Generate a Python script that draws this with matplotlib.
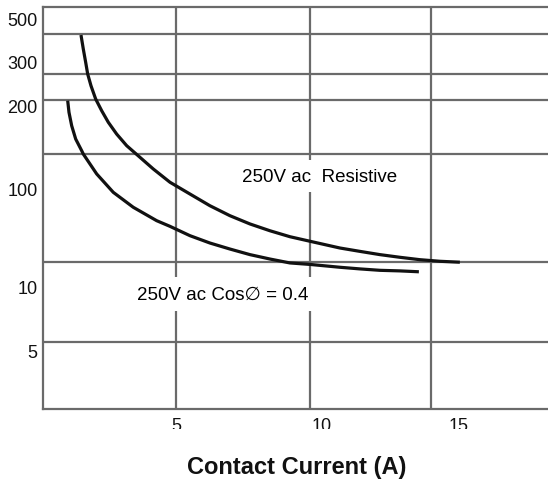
import numpy as np
import matplotlib
matplotlib.use("Agg")
import matplotlib.pyplot as plt
from matplotlib.transforms import Bbox, TransformedBbox

plt.rcParams['font.family'] = ['Liberation Sans', 'DejaVu Sans']

# ---- data ----
res_current = [1.418, 1.504, 1.593, 1.668, 1.791, 1.966, 2.190, 2.437, 2.750, 3.123,
               3.619, 4.116, 4.739, 5.485, 6.231, 6.978, 7.724, 8.47, 9.216,
               9.963, 11.082, 11.828, 12.575, 13.321, 14.067, 14.813, 15.56]
res_life = [413.4, 350.1, 299.1, 268.5, 241.1, 213.3, 192.3, 174.6, 158.2, 143.6,
            130.3, 118.2, 105.8, 88.9, 67.5, 53.4, 44.0, 37.5, 32.6,
            29.3, 25.0, 23.1, 21.4, 20.1, 19.0, 18.3, 17.9]

cos_current = [0.922, 0.970, 1.071, 1.220, 1.444, 1.504, 2.004, 2.623, 3.369, 4.243,
               4.739, 5.485, 6.231, 6.978, 7.724, 8.47, 9.216, 9.963, 11.082, 11.828,
               12.575, 13.321, 14.03]
cos_life = [210.0, 189.7, 169.6, 151.8, 137.7, 133.9, 113.4, 92.5, 65.1, 47.5,
            41.6, 33.4, 28.1, 24.4, 21.4, 19.3, 17.6, 17.0, 15.9, 15.3,
            14.8, 14.6, 14.3]

y_tick_values = [500, 300, 200, 100, 10, 5]
y_tick_labels = ['500', '300', '200', '100', '10', '5']
x_tick_values = [4.96, 10.4, 15.5]
x_tick_labels = ['5', '10', '15']
h_grid_values = [419, 269, 211, 134, 18, 5.5]
v_grid_values = [4.96, 9.96, 14.5]

# ---- the (irregular) scale of the original y axis ----
scale_vals = np.log10([2.67, 5, 10, 100, 200, 300, 500, 577])
scale_pos = np.array([0, 58, 122, 220, 303, 347, 390, 402]) / 402.0


def fwd(v):
    v = np.asarray(v, dtype=float)
    v = np.where(v > 0, v, 1e-9)
    return np.interp(np.log10(v), scale_vals, scale_pos)


def inv(p):
    p = np.asarray(p, dtype=float)
    return 10 ** np.interp(p, scale_pos, scale_vals)


W, H = 548, 485
fig = plt.figure(figsize=(W / 100, H / 100), dpi=100)
ax = fig.add_axes([43 / W, (H - 410) / H, (W - 43) / W, 402 / H])
ax.set_yscale('function', functions=(fwd, inv))
ax.set_xlim(0, 18.85)
ax.set_ylim(2.67, 577)

gcol = '#6a6a6a'
for v in h_grid_values:
    ax.axhline(v, color=gcol, lw=1.6, zorder=1)
for v in v_grid_values:
    ax.axvline(v, color=gcol, lw=1.6, zorder=1)

ax.plot(res_current, res_life, color='#111111', lw=2.3, zorder=3,
        solid_capstyle='butt', solid_joinstyle='round')
ax.plot(cos_current, cos_life, color='#111111', lw=2.3, zorder=3,
        solid_capstyle='butt', solid_joinstyle='round')

ax.text(10.34, 111.4, '250V ac  Resistive', fontsize=13.5, ha='center', va='center',
        zorder=2, bbox=dict(facecolor='white', edgecolor='none', pad=5.5))
ax.text(6.70, 9.27, '250V ac Cos\u2205 = 0.4', fontsize=13.5, ha='center', va='center',
        zorder=2, bbox=dict(facecolor='white', edgecolor='none', pad=6))

ax.set_yticks(y_tick_values, y_tick_labels)
ax.yaxis.set_minor_locator(matplotlib.ticker.NullLocator())
ax.set_xticks(x_tick_values, x_tick_labels)
ax.tick_params(axis='both', length=0, labelsize=13, colors='#111111')
ax.tick_params(axis='y', pad=4)
ax.tick_params(axis='x', pad=6)

clip = TransformedBbox(Bbox([[0, (H - 430) / H], [1, 1]]), fig.transFigure)
for lbl in ax.get_xticklabels():
    lbl.set_clip_box(clip)
    lbl.set_clip_on(True)

for s in ['left', 'bottom', 'top']:
    ax.spines[s].set_color(gcol)
    ax.spines[s].set_linewidth(1.6)
ax.spines['right'].set_visible(False)

fig.text(297 / W, (H - 468) / H, 'Contact Current (A)', fontsize=17,
         fontweight='bold', ha='center', va='center', color='#111111')

fig.savefig('out.png', dpi=100)
